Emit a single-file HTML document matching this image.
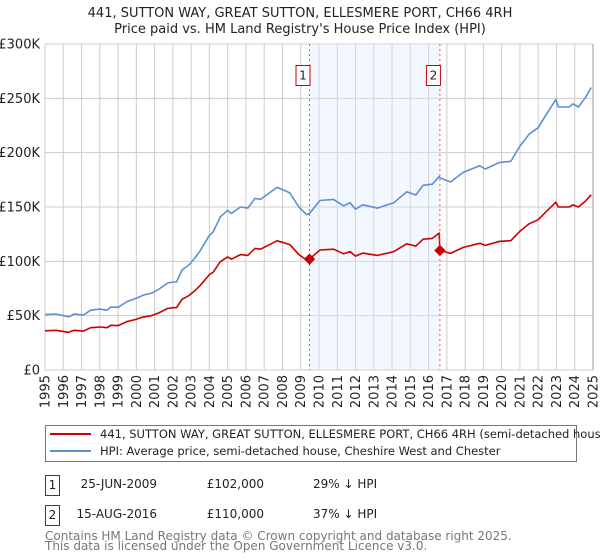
<!DOCTYPE html>
<html><head><meta charset="utf-8">
<style>
body{margin:0;background:#fff;font-family:"Liberation Sans","DejaVu Sans",sans-serif;}
#wrap{position:relative;width:600px;height:560px;overflow:hidden;}
</style></head>
<body>
<div id="wrap">
<svg id="chart" width="600" height="560" xmlns="http://www.w3.org/2000/svg" font-family="DejaVu Sans, Liberation Sans, sans-serif">
<text x="300" y="17" text-anchor="middle" font-size="13" fill="#222">441, SUTTON WAY, GREAT SUTTON, ELLESMERE PORT, CH66 4RH</text>
<text x="300" y="33" text-anchor="middle" font-size="13" fill="#222">Price paid vs. HM Land Registry's House Price Index (HPI)</text>
<g id="grid"></g><g id="shade"></g><g id="series"></g><g id="axes"></g>
<rect x="45.5" y="425.5" width="531" height="36" fill="#fff" stroke="#777"/>
<line x1="50" y1="434" x2="91" y2="434" stroke="#cc0000" stroke-width="2"/>
<text x="100" y="438" font-size="11.5" fill="#222">441, SUTTON WAY, GREAT SUTTON, ELLESMERE PORT, CH66 4RH (semi-detached house)</text>
<line x1="50" y1="451" x2="91" y2="451" stroke="#5b8fd4" stroke-width="2"/>
<text x="100" y="455" font-size="11.5" fill="#222">HPI: Average price, semi-detached house, Cheshire West and Chester</text>
<g>
<rect x="45.5" y="475.5" width="14" height="20" fill="#fff" stroke="#cc0000"/>
<text x="52.5" y="489" text-anchor="middle" font-size="12" fill="#222">1</text>
<text x="157" y="488" text-anchor="end" font-size="12" fill="#222">25-JUN-2009</text>
<text x="264" y="488" text-anchor="end" font-size="12" fill="#222">£102,000</text>
<text x="313" y="488" font-size="12" fill="#222">29% ↓ HPI</text>
</g>
<g>
<rect x="45.5" y="505.5" width="14" height="20" fill="#fff" stroke="#cc0000"/>
<text x="52.5" y="519" text-anchor="middle" font-size="12" fill="#222">2</text>
<text x="157" y="518" text-anchor="end" font-size="12" fill="#222">15-AUG-2016</text>
<text x="264" y="518" text-anchor="end" font-size="12" fill="#222">£110,000</text>
<text x="313" y="518" font-size="12" fill="#222">37% ↓ HPI</text>
</g>
<text x="45" y="540" font-size="12" fill="#777">Contains HM Land Registry data © Crown copyright and database right 2025.</text>
<text x="45" y="550" font-size="12" fill="#777">This data is licensed under the Open Government Licence v3.0.</text>
</svg>
</div>
<script>
const years=[1995.0,1995.6,1996.3,1996.6,1997.1,1997.5,1998.0,1998.4,1998.6,1999.0,1999.5,2000.0,2000.4,2000.8,2001.2,2001.7,2002.0,2002.2,2002.5,2002.9,2003.2,2003.5,2004.0,2004.2,2004.6,2005.0,2005.2,2005.7,2006.1,2006.5,2006.8,2007.2,2007.7,2008.0,2008.4,2008.9,2009.32,2009.48,2010.05,2010.8,2011.35,2011.7,2012.0,2012.4,2013.2,2014.1,2014.8,2015.3,2015.7,2016.2,2016.58,2016.62,2017.2,2017.9,2018.8,2019.1,2019.9,2020.5,2021.0,2021.5,2022.0,2022.4,2022.97,2023.1,2023.7,2023.9,2024.2,2024.6,2024.9];
const hpiValues=[51,51.5,49,51.5,50.6,55,56,55,58,57.7,63,66,69,70.5,74,80,81,81,92,97,103,110,124,127,141,147,144,150,149,158,157,162,168,166,163,150,143,144,156,157,151,154,148,152,149,154,164,161,170,171,178,177,173,182,188,185,191,192,206,217,223,234,249,242,242,245,242,251,260];
const propertyValues=[36.1,36.5,34.7,36.5,35.8,38.9,39.6,38.9,41.1,40.9,44.6,46.7,48.9,49.9,52.4,56.6,57.3,57.3,65.1,68.7,72.9,77.9,87.8,89.9,99.8,104.1,102,106.2,105.5,111.9,111.2,114.7,118.9,117.5,115.4,106.2,101.2,102,110.4,111.2,106.9,109,104.8,107.6,105.5,109,116.1,114,120.4,121.1,126,110,107.3,112.8,116.6,114.7,118.4,119,127.7,134.5,138.3,145.1,154.4,150,150,151.9,150,155.6,161.2];
const saleYears=[2009.48,2016.62];
const saleValues=[102,110];
const saleLabels=["1","2"];
const yTicks=[0,50,100,150,200,250,300];
const yTickLabels=["£0","£50K","£100K","£150K","£200K","£250K","£300K"];
const xTicks=[1995,1996,1997,1998,1999,2000,2001,2002,2003,2004,2005,2006,2007,2008,2009,2010,2011,2012,2013,2014,2015,2016,2017,2018,2019,2020,2021,2022,2023,2024,2025];

const X0=45,X1=593,Y0=370,Y1=44;
const xs=y=>X0+(y-1995)/(2025-1995)*(X1-X0);
const ys=v=>Y0-v/300*(Y0-Y1);
const NS="http://www.w3.org/2000/svg";
function mk(tag,attrs,parent){const e=document.createElementNS(NS,tag);for(const k in attrs)e.setAttribute(k,attrs[k]);parent.appendChild(e);return e;}
const grid=document.getElementById('grid'),shade=document.getElementById('shade'),series=document.getElementById('series'),axes=document.getElementById('axes');

yTicks.forEach((t,i)=>{
  const l=mk('line',{x1:X0,x2:X1,y1:ys(t),y2:ys(t),stroke:'#cccccc','stroke-width':1},grid);
  
  
  const tx=mk('text',{x:X0-5,y:ys(t)+4.5,'text-anchor':'end','font-size':13,fill:'#222'},axes);
  tx.textContent=yTickLabels[i];
  
  
});
xTicks.forEach(t=>{
  const l=mk('line',{x1:xs(t),x2:xs(t),y1:Y1,y2:Y0,stroke:'#cccccc','stroke-width':1},grid);
  
  
  const tx=mk('text',{x:0,y:0,'text-anchor':'end','font-size':13,fill:'#222',transform:`translate(${xs(t)+4.5},375) rotate(-90)`},axes);
  tx.textContent=String(t);
  
  
});
const sh=mk('rect',{x:xs(saleYears[0]),y:Y1,width:xs(saleYears[1])-xs(saleYears[0]),height:Y0-Y1,fill:'#dce8fb','fill-opacity':0.35},shade);


const rb=mk('line',{x1:X1,x2:X1,y1:Y1,y2:Y0,stroke:'#999','stroke-width':1},axes);



const pts=vals=>years.map((y,i)=>xs(y).toFixed(1)+','+ys(vals[i]).toFixed(1)).join(' ');
const hp=mk('polyline',{points:pts(hpiValues),fill:'none',stroke:'#5b8fd4','stroke-width':1.6,'stroke-linejoin':'round'},series);


const pp=mk('polyline',{points:pts(propertyValues),fill:'none',stroke:'#cc0000','stroke-width':1.6,'stroke-linejoin':'round'},series);



saleYears.forEach((y,i)=>{
  const x=xs(y);
  const v=mk('line',{x1:x,x2:x,y1:Y1,y2:Y0,stroke:'#ee5555','stroke-width':1,'stroke-dasharray':'2,3'},series);
  
  
  const d=mk('rect',{x:x-4,y:ys(saleValues[i])-4,width:8,height:8,fill:'#cc0000',transform:`rotate(45 ${x} ${ys(saleValues[i])})`},series);
  
  
  const b=mk('rect',{x:x-13.5,y:65.5,width:14,height:20,fill:'#fff',stroke:'#cc0000'},series);
  
  
  const t=mk('text',{x:x-6.5,y:79.5,'text-anchor':'middle','font-size':12,fill:'#222'},series);
  t.textContent=saleLabels[i];
  
  
});
</script>
</body></html>
